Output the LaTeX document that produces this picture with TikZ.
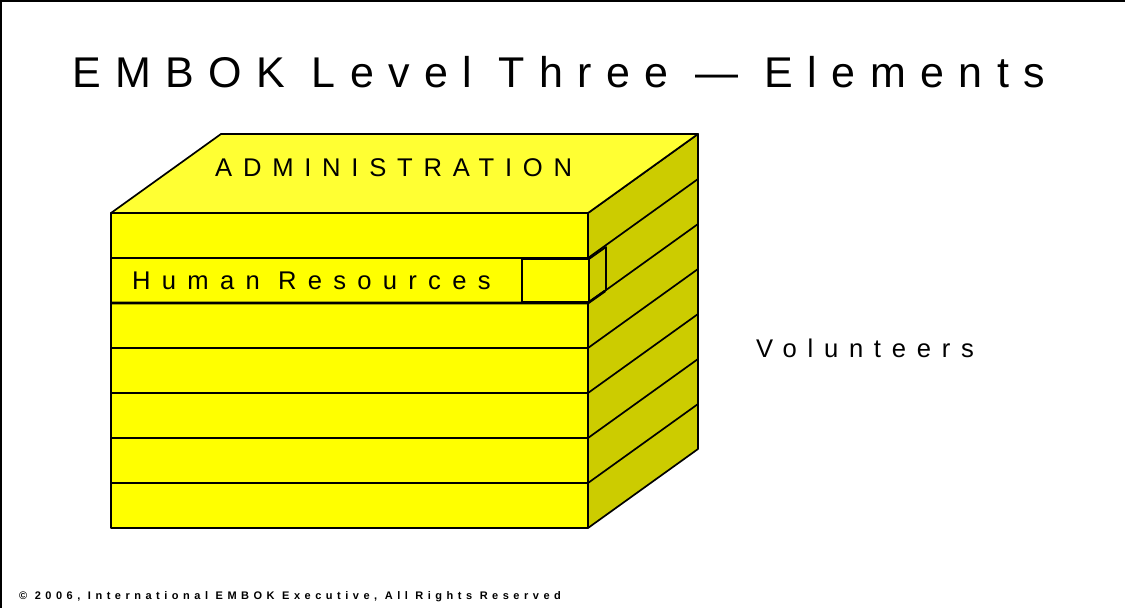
\documentclass[tikz,border=0pt]{standalone}
\usepackage{fontspec}
\setmainfont{Liberation Sans}
\newfontfamily\titlefont[LetterSpace=33.6]{Liberation Sans}
\newfontfamily\labelfont[LetterSpace=42]{Liberation Sans}
\newfontfamily\hrfont[LetterSpace=44]{Liberation Sans}
\newfontfamily\footfont[LetterSpace=41]{Liberation Sans}
\definecolor{frontyellow}{HTML}{FFFF00}
\definecolor{topyellow}{HTML}{FFFF33}
\definecolor{sideyellow}{HTML}{CCCC00}
\tikzset{
  edge/.style={draw=black, line width=1.7pt, line join=round},
  rowbox/.style={edge, fill=frontyellow, minimum width=477pt, minimum height=45pt,
                 inner sep=0pt, outer sep=0pt, anchor=north west},
  label/.style={inner sep=0pt, anchor=base west, font=\labelfont\fontsize{25.6}{30}\selectfont},
}
\begin{document}
\begin{tikzpicture}[x=1pt,y=-1pt]
\useasboundingbox (0,0) rectangle (1125,608);
% slide frame
\draw[line width=1.8pt] (0.9,608) -- (0.9,0.9) -- (1125,0.9);

% title
\node[inner sep=0pt, anchor=base west, font=\titlefont\fontsize{43}{50}\selectfont]
  (title) at (72,87.5) {EMBOK Level Three — Elements};

% right side of the block
\filldraw[edge, fill=sideyellow] (588,213) -- (698,134) -- (698,449) -- (588,528) -- cycle;
% top of the block
\filldraw[edge, fill=topyellow] (111,213) -- (221,134) -- (698,134) -- (588,213) -- cycle;

% front layers
\foreach \i in {1,...,7} {
  \node[rowbox] (row\i) at (111,{213+45*(\i-1)}) {};
}
% layer lines on the side face
\foreach \i in {1,...,6} {
  \draw[edge] (row\i.south east) -- ++(110,-79);
}

% highlighted element cube
\node[edge, fill=frontyellow, minimum width=67pt, minimum height=43pt, inner sep=0pt,
      outer sep=0pt, anchor=north west] (hrcube) at (522,259) {};
\filldraw[edge, fill=sideyellow] (hrcube.north east) -- ++(17,-12) -- ++(0,43)
  -- (hrcube.south east) -- cycle;
\draw[edge, line width=2.6pt] (row2.south west) -- (row2.south east) -- ++(17,-12);

% labels
\node[label] (admin) at (215,176.7) {ADMINISTRATION};
\node[label, font=\hrfont\fontsize{25.6}{30}\selectfont] (hr) at (132,289) {Human Resources};
\node[label] (vol) at (756,357.5) {Volunteers};

% footer
\node[inner sep=0pt, anchor=base west, font=\footfont\bfseries\fontsize{11}{13}\selectfont]
  (copy) at (19,599) {© 2006, International EMBOK Executive, All Rights Reserved};
\end{tikzpicture}
\end{document}
